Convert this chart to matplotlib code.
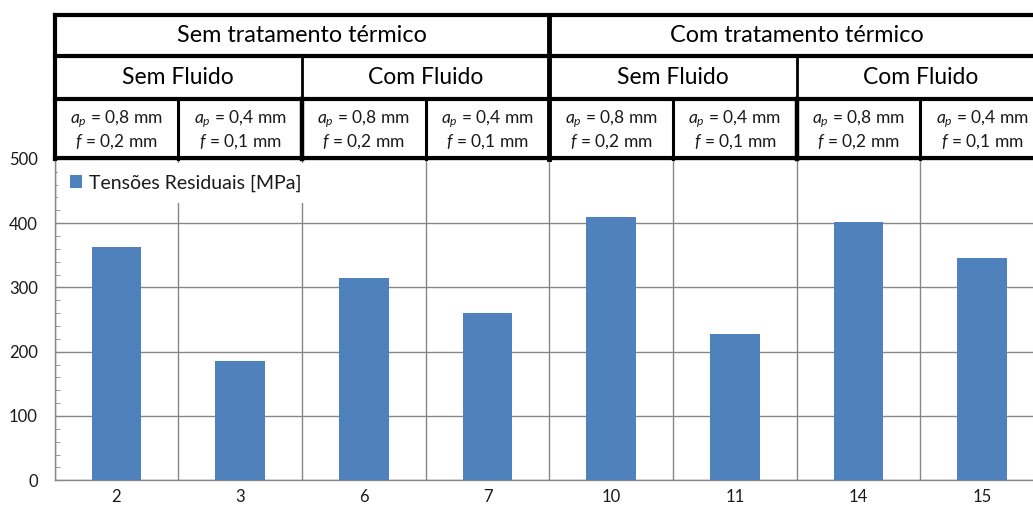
import matplotlib
matplotlib.use("Agg")
import matplotlib.pyplot as plt
from matplotlib.ticker import MultipleLocator, FixedLocator
import numpy as np

plt.rcParams['font.family'] = ['Lato', 'DejaVu Sans']
plt.rcParams['mathtext.fontset'] = 'custom'
plt.rcParams['mathtext.rm'] = 'Lato'
plt.rcParams['mathtext.it'] = 'Lato:italic'

# --- data -------------------------------------------------------------
samples = ["2", "3", "6", "7", "10", "11", "14", "15"]
residual_stress = [363, 185, 314, 260, 410, 227, 402, 346]
series_label = "Tensões Residuais [MPa]"

treatment_labels = ["Sem tratamento térmico", "Com tratamento térmico"]
fluid_labels = ["Sem Fluido", "Com Fluido", "Sem Fluido", "Com Fluido"]
ap_labels = ["0,8", "0,4", "0,8", "0,4", "0,8", "0,4", "0,8", "0,4"]
f_labels = ["0,2", "0,1", "0,2", "0,1", "0,2", "0,1", "0,2", "0,1"]

# --- figure -----------------------------------------------------------
W, H = 1033, 508
fig = plt.figure(figsize=(W / 100, H / 100), dpi=100)
ax = fig.add_axes([54.6 / W, 27.7 / H, (1044 - 54.6) / W, 321.5 / H])

bar_color = "#4F81BD"
grid_color = "#878787"
text_color = "#1a1a1a"

n = len(samples)
x = np.arange(n)
ax.bar(x, residual_stress, width=0.4, color=bar_color, label=series_label,
       zorder=3)

ax.set_xlim(-0.5, n - 0.5)
ax.set_ylim(0, 500)

ax.yaxis.set_major_locator(MultipleLocator(100))
ax.yaxis.set_minor_locator(MultipleLocator(20))
ax.set_xticks(x)
ax.set_xticklabels(samples)
ax.xaxis.set_minor_locator(FixedLocator(np.arange(n + 1) - 0.5))

ax.grid(axis="y", which="major", color=grid_color, lw=1.0, zorder=0)
ax.grid(axis="x", which="minor", color=grid_color, lw=1.0, zorder=0)

ax.tick_params(axis="y", which="both", direction="in", length=3.5,
               color=grid_color, labelsize=12, pad=12, labelcolor=text_color)
ax.tick_params(axis="x", which="both", length=0, labelsize=12, pad=6.5,
               labelcolor=text_color)

for side in ("top", "right"):
    ax.spines[side].set_visible(False)
for side in ("left", "bottom"):
    ax.spines[side].set_color(grid_color)
    ax.spines[side].set_linewidth(1.0)

leg = ax.legend(loc="upper left", bbox_to_anchor=(0.0, 1.0), borderaxespad=0.2,
                frameon=True, fancybox=False, facecolor="white",
                edgecolor="none", framealpha=1.0, fontsize=14,
                handlelength=0.6, handleheight=0.6, handletextpad=0.35,
                borderpad=0.6)
leg.set_zorder(4)
for t in leg.get_texts():
    t.set_color(text_color)

# --- header table above the plot (x in data units, y in axes fraction) --
tr = ax.get_xaxis_transform()
y_top, y_r1, y_r2, y_bot = 1.4488, 1.3198, 1.186, 1.0
x0, x1 = -0.5, n - 0.5

def hline(y, lw):
    ax.plot([x0, x1], [y, y], color="black", lw=lw, transform=tr,
            clip_on=False, solid_capstyle="projecting", zorder=6)

def vline(xv, ya, yb, lw):
    ax.plot([xv, xv], [ya, yb], color="black", lw=lw, transform=tr,
            clip_on=False, solid_capstyle="projecting", zorder=6)

hline(y_top, 3.0)
hline(y_r1, 3.0)
hline(y_r2, 3.0)
hline(y_bot + 0.003, 3.0)

vline(x0, y_bot, y_top, 3.0)
vline(3.5, y_bot, y_top, 3.5)
for xv in (1.5, 5.5):
    vline(xv, y_r2, y_r1, 2.0)
    vline(xv, y_bot, y_r2, 3.2)
for xv in (0.5, 2.5, 4.5, 6.5):
    vline(xv, y_bot, y_r2, 2.2)

for i, lab in enumerate(treatment_labels):
    ax.text(i * 4 + 1.5, 1.382, lab, transform=tr, ha="center", va="center",
            fontsize=16.8, color="black", clip_on=False)
for i, lab in enumerate(fluid_labels):
    ax.text(i * 2 + 0.5, 1.2544, lab, transform=tr, ha="center", va="center",
            fontsize=16.5, color="black", clip_on=False)
for i in range(n):
    ax.text(i, 1.124, r"$a_p$ = " + ap_labels[i] + " mm", transform=tr,
            ha="center", va="center", fontsize=12.5, color=text_color,
            clip_on=False)
    ax.text(i, 1.052, r"$f$ = " + f_labels[i] + " mm", transform=tr,
            ha="center", va="center", fontsize=12.5, color=text_color,
            clip_on=False)

fig.savefig("out.png", dpi=100)
